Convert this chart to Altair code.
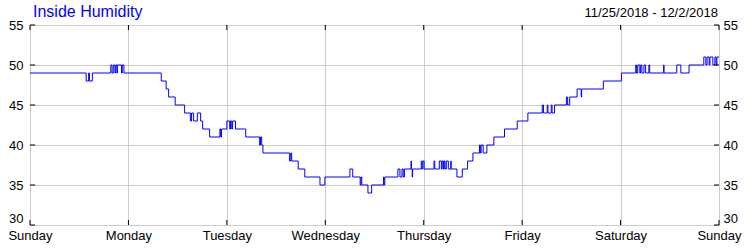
import altair as alt
import pandas as pd

# ---- data ----
hours = [
    0, 13.7, 14.3, 14.5, 15.2, 19.7, 20.0, 20.3, 20.7, 20.9, 21.2, 21.3, 22.3, 22.5, 22.9,
    32.0, 33.2, 33.8, 35.4, 37.7, 39.1, 39.4, 39.9, 40.8, 41.6, 42.1, 43.8, 46.3, 46.5, 46.7,
    48.0, 48.7, 48.9, 49.2, 49.4, 50.1, 52.6, 56.0, 56.2, 56.5, 56.8, 63.3, 63.6, 63.8, 65.4,
    67.0, 70.7, 71.9, 78.0, 78.7, 80.5, 80.7, 80.9, 82.4, 83.3, 86.2, 86.3, 86.5, 89.7, 90.2,
    90.7, 91.0, 91.3, 92.9, 93.0, 93.2, 93.3, 95.4, 95.6, 95.8, 96.1, 98.5, 98.7, 99.8, 100.3,
    100.5, 100.8, 101.0, 101.2, 101.5, 102.0, 102.6, 102.7, 104.1, 105.4, 106.7, 108.0, 109.6, 109.8, 110.0,
    110.5, 111.4, 113.1, 115.7, 118.8, 121.4, 124.9, 125.2, 126.1, 126.3, 127.1, 127.3, 127.9, 130.8, 131.1,
    131.6, 133.4, 134.4, 134.5, 139.8, 144.2, 147.7, 147.9, 148.2, 148.7, 148.9, 149.2, 149.7, 150.1, 150.9,
    151.1, 154.5, 154.6, 157.7, 158.7, 160.7, 164.3, 164.8, 165.1, 165.6, 165.8, 166.5, 167.0, 167.3, 167.5,
    168.0,
]
humidity = [
    49, 48, 49, 48, 49, 50, 49, 50, 49, 50, 49, 50, 49, 50, 49,
    48, 47, 46, 45, 44, 43, 44, 43, 44, 43, 42, 41, 42, 41, 42,
    43, 42, 43, 42, 43, 42, 41, 40, 41, 40, 39, 38, 39, 38, 37,
    36, 35, 36, 37, 36, 35, 36, 35, 34, 35, 36, 35, 36, 37, 36,
    37, 36, 37, 38, 37, 36, 37, 38, 37, 38, 37, 38, 37, 38, 37,
    38, 37, 38, 37, 38, 37, 38, 37, 36, 37, 38, 39, 40, 39, 40,
    39, 40, 41, 42, 43, 44, 45, 44, 45, 44, 45, 44, 45, 46, 45,
    46, 47, 46, 47, 48, 49, 50, 49, 50, 49, 50, 49, 50, 49, 50,
    49, 50, 49, 50, 49, 50, 51, 50, 51, 50, 51, 50, 51, 50, 51,
    51,
]
day_names = ["Sunday", "Monday", "Tuesday", "Wednesday", "Thursday", "Friday", "Saturday", "Sunday"]
day_ticks = [0, 24, 48, 72, 96, 120, 144, 168]
y_ticks = [30, 35, 40, 45, 50, 55]
title_text = "Inside Humidity"
date_range = "11/25/2018 - 12/2/2018"

W, H = 689, 200
FONT = "Liberation Sans"
LFS = 13

df = pd.DataFrame({"h": hours, "rh": humidity})
xt = pd.DataFrame({"h": day_ticks})
yt = pd.DataFrame({"v": y_ticks})

label_expr = "[" + ",".join("'%s'" % d for d in day_names) + "][round(datum.value/24)]"

x_scale = alt.Scale(domain=[0, 168], nice=False, zero=False)
y_scale = alt.Scale(domain=[30, 55], nice=False, zero=False)

x_axis = alt.Axis(
    values=day_ticks, labelExpr=label_expr, grid=True, gridColor="#cccccc",
    ticks=False, domain=False, labelPadding=4, labelFlush=False, labelOverlap=False,
    labelBound=False, title=None, labelFont=FONT, labelFontSize=LFS, labelColor="black",
)

line = alt.Chart(df).mark_line(interpolate="step-after", color="#0000ff", strokeWidth=1).encode(
    x=alt.X("h:Q", scale=x_scale, axis=x_axis),
    y=alt.Y("rh:Q", scale=y_scale, axis=alt.Axis(
        values=y_ticks, grid=True, gridColor="#cccccc", ticks=False, domain=False,
        labelPadding=7, title=None, labelFlush=False,
        labelFont=FONT, labelFontSize=LFS, labelColor="black",
        labelBaseline={"expr": "datum.value == 30 ? 'bottom' : 'middle'"},
    )),
)

xticks_bottom = alt.Chart(xt).mark_rule(color="black", strokeWidth=1).encode(
    x=alt.X("h:Q", scale=x_scale, axis=x_axis), y=alt.value(H), y2=alt.value(H - 5)
)
xticks_top = alt.Chart(xt).mark_rule(color="black", strokeWidth=1).encode(
    x=alt.X("h:Q", scale=x_scale, axis=x_axis), y=alt.value(0), y2=alt.value(5)
)

yticks_right = alt.Chart(yt).mark_rule(color="black", strokeWidth=1).encode(
    y=alt.Y("v:Q", scale=y_scale, axis=alt.Axis(
        orient="right", values=y_ticks, grid=False, ticks=False, domain=False,
        labelPadding=4, title=None, labelFlush=False,
        labelFont=FONT, labelFontSize=LFS, labelColor="black",
        labelBaseline={"expr": "datum.value == 30 ? 'bottom' : 'middle'"},
    )),
    x=alt.value(W), x2=alt.value(W - 5),
)
yticks_left = alt.Chart(yt).mark_rule(color="black", strokeWidth=1).encode(
    y=alt.Y("v:Q", scale=y_scale, axis=None),
    x=alt.value(0), x2=alt.value(5),
)

date_text = alt.Chart(pd.DataFrame({"t": [date_range]})).mark_text(
    align="right", baseline="alphabetic", fontSize=13, font=FONT, color="black"
).encode(text="t:N", x=alt.value(W - 1), y=alt.value(-8))

title_mark = alt.Chart(pd.DataFrame({"t": [title_text]})).mark_text(
    align="left", baseline="alphabetic", fontSize=16, font=FONT, color="#0000ff"
).encode(text="t:N", x=alt.value(3), y=alt.value(-8))

chart = alt.layer(
    line, yticks_right, yticks_left, xticks_bottom, xticks_top, date_text, title_mark
).resolve_scale(y="independent").properties(
    width=W, height=H,
    autosize=alt.AutoSizeParams(type="none"),
    padding={"left": 30, "top": 25, "right": 31, "bottom": 25},
).configure_view(
    stroke="black", strokeWidth=1
).configure(background="white")

chart.save("out.html", embed_options={"renderer": "svg", "actions": False})
